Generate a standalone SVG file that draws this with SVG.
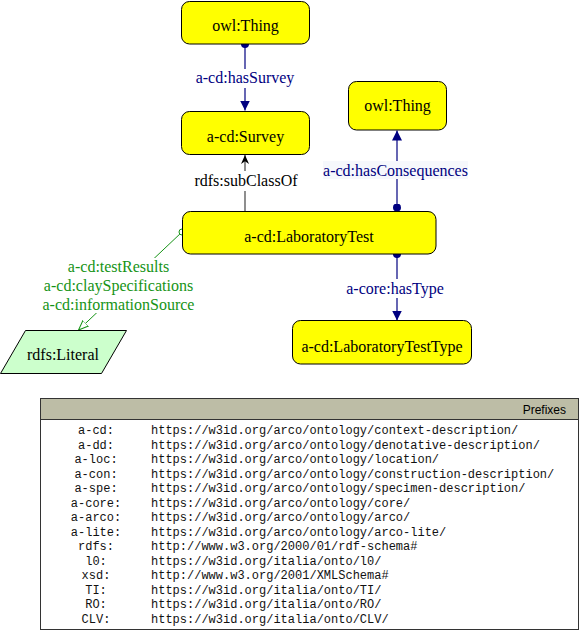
<svg xmlns="http://www.w3.org/2000/svg" width="581" height="631" viewBox="0 0 581 631">
  <defs>
    <style>
      .cls rect, .cls polygon { stroke: #000; stroke-width: 1; }
      .cls rect { fill: #ffff00; }
      .lbl { font-family: "Liberation Serif", "Times New Roman", serif; font-size: 16px; text-anchor: middle; }
      .node { fill: #000; }
      .obj { fill: #000080; }
      .dat { fill: #169316; }
      .sub { fill: #000; }
      .objline { stroke: #000080; stroke-width: 1.2; fill: none; }
      .datline { stroke: #169316; stroke-width: 1; fill: none; }
      .subline { stroke: #444; stroke-width: 1.2; fill: none; }
      .pfx { font-family: "Liberation Mono", "Courier New", monospace; font-size: 12px; fill: #111; }
      .pfx-k { text-anchor: middle; }
    </style>
    <marker id="arrowObj" viewBox="0 0 10 10" refX="10" refY="5" markerWidth="10" markerHeight="10" markerUnits="userSpaceOnUse" orient="auto">
      <path d="M0,0 L10,5 L0,10 Z" fill="#000080"/>
    </marker>
    <marker id="dotObj" viewBox="0 0 10 10" refX="5" refY="5" markerWidth="8" markerHeight="8" markerUnits="userSpaceOnUse" orient="auto">
      <circle cx="5" cy="5" r="5" fill="#000080"/>
    </marker>
    <marker id="arrowSub" viewBox="0 0 10 10" refX="10" refY="5" markerWidth="9" markerHeight="9" markerUnits="userSpaceOnUse" orient="auto">
      <path d="M0,0.5 L10,5 L0,9.5 L3,5 Z" fill="#000"/>
    </marker>
    <marker id="arrowDat" viewBox="0 0 10 10" refX="10" refY="5" markerWidth="10" markerHeight="10" markerUnits="userSpaceOnUse" orient="auto">
      <path d="M0,1 L10,5 L0,9 Z" fill="#fff" stroke="#169316" stroke-width="1"/>
    </marker>
  </defs>

  <rect width="581" height="631" fill="#fff"/>

  <!-- connectors -->
  <g id="connectors">
    <!-- a-cd:hasSurvey -->
    <g id="e-hasSurvey">
      <line class="objline" x1="245" y1="44" x2="245" y2="110.5" marker-start="url(#dotObj)" marker-end="url(#arrowObj)"/>
      <rect x="193" y="69" width="104" height="19" fill="#fff"/>
      <text class="lbl obj" x="245" y="83">a-cd:hasSurvey</text>
    </g>
    <!-- rdfs:subClassOf -->
    <g id="e-subClassOf">
      <line class="subline" x1="245" y1="211" x2="245" y2="155" marker-end="url(#arrowSub)"/>
      <rect x="193" y="171" width="106" height="20" fill="#fff"/>
      <text class="lbl sub" x="246" y="186">rdfs:subClassOf</text>
    </g>
    <!-- a-cd:hasConsequences -->
    <g id="e-hasConsequences">
      <line class="objline" x1="397" y1="207.5" x2="397" y2="130.5" marker-start="url(#dotObj)" marker-end="url(#arrowObj)"/>
      <rect x="323" y="161" width="145" height="18" fill="#f6f8fc"/>
      <text class="lbl obj" x="395.5" y="176">a-cd:hasConsequences</text>
    </g>
    <!-- a-core:hasType -->
    <g id="e-hasType">
      <line class="objline" x1="397" y1="254" x2="397" y2="320.5" marker-start="url(#dotObj)" marker-end="url(#arrowObj)"/>
      <rect x="343" y="279" width="103" height="19" fill="#fff"/>
      <text class="lbl obj" x="395" y="294">a-core:hasType</text>
    </g>
    <!-- data properties to rdfs:Literal -->
    <g id="e-literal">
      <line class="datline" x1="182" y1="232" x2="78.5" y2="330" marker-end="url(#arrowDat)"/>
      <circle cx="182" cy="232" r="3" fill="#fff" stroke="#169316" stroke-width="1"/>
      <rect x="42" y="258" width="153" height="55" fill="#fff"/>
      <text class="lbl dat" x="118.5" y="272">a-cd:testResults</text>
      <text class="lbl dat" x="118.5" y="291">a-cd:claySpecifications</text>
      <text class="lbl dat" x="118.5" y="310">a-cd:informationSource</text>
    </g>
  </g>

  <!-- nodes -->
  <g id="n-owlThing-top" class="cls">
    <rect x="181.5" y="1.5" width="128" height="42.5" rx="8"/>
    <text class="lbl node" x="245.5" y="31">owl:Thing</text>
  </g>
  <g id="n-survey" class="cls">
    <rect x="181.5" y="111.5" width="128" height="43" rx="8"/>
    <text class="lbl node" x="245.5" y="142">a-cd:Survey</text>
  </g>
  <g id="n-owlThing-right" class="cls">
    <rect x="348.5" y="81.5" width="98" height="48.5" rx="8"/>
    <text class="lbl node" x="397.5" y="111">owl:Thing</text>
  </g>
  <g id="n-laboratoryTest" class="cls">
    <rect x="182.5" y="211.5" width="253.5" height="42.5" rx="8"/>
    <text class="lbl node" x="309" y="242">a-cd:LaboratoryTest</text>
  </g>
  <g id="n-laboratoryTestType" class="cls">
    <rect x="292.5" y="320.5" width="179" height="43.5" rx="8"/>
    <text class="lbl node" x="382" y="352">a-cd:LaboratoryTestType</text>
  </g>
  <g id="n-literal" class="cls">
    <polygon points="25.5,330.5 126.5,330.5 101.5,373.5 0.5,373.5" style="fill:#ccffcc"/>
    <text class="lbl node" x="63" y="360">rdfs:Literal</text>
  </g>

  <!-- prefix table -->
  <g id="prefixes">
    <rect x="40.5" y="398.5" width="538" height="231" fill="#fff" stroke="#333" stroke-width="1"/>
    <rect x="40.5" y="398.5" width="538" height="21" fill="#bdbda6" stroke="#333" stroke-width="1"/>
    <text x="566" y="414" font-family="Liberation Sans, Arial, sans-serif" font-size="12" text-anchor="end" fill="#000">Prefixes</text>
    <g class="pfx">
      <text class="pfx-k" x="96" y="434">a-cd:</text><text x="151" y="434">https://w3id.org/arco/ontology/context-description/</text>
      <text class="pfx-k" x="96" y="448.5">a-dd:</text><text x="151" y="448.5">https://w3id.org/arco/ontology/denotative-description/</text>
      <text class="pfx-k" x="96" y="463">a-loc:</text><text x="151" y="463">https://w3id.org/arco/ontology/location/</text>
      <text class="pfx-k" x="96" y="477.5">a-con:</text><text x="151" y="477.5">https://w3id.org/arco/ontology/construction-description/</text>
      <text class="pfx-k" x="96" y="492">a-spe:</text><text x="151" y="492">https://w3id.org/arco/ontology/specimen-description/</text>
      <text class="pfx-k" x="96" y="506.5">a-core:</text><text x="151" y="506.5">https://w3id.org/arco/ontology/core/</text>
      <text class="pfx-k" x="96" y="521">a-arco:</text><text x="151" y="521">https://w3id.org/arco/ontology/arco/</text>
      <text class="pfx-k" x="96" y="535.5">a-lite:</text><text x="151" y="535.5">https://w3id.org/arco/ontology/arco-lite/</text>
      <text class="pfx-k" x="96" y="550">rdfs:</text><text x="151" y="550">http://www.w3.org/2000/01/rdf-schema#</text>
      <text class="pfx-k" x="96" y="564.5">l0:</text><text x="151" y="564.5">https://w3id.org/italia/onto/l0/</text>
      <text class="pfx-k" x="96" y="579">xsd:</text><text x="151" y="579">http://www.w3.org/2001/XMLSchema#</text>
      <text class="pfx-k" x="96" y="593.5">TI:</text><text x="151" y="593.5">https://w3id.org/italia/onto/TI/</text>
      <text class="pfx-k" x="96" y="608">RO:</text><text x="151" y="608">https://w3id.org/italia/onto/RO/</text>
      <text class="pfx-k" x="96" y="622.5">CLV:</text><text x="151" y="622.5">https://w3id.org/italia/onto/CLV/</text>
    </g>
  </g>
</svg>
